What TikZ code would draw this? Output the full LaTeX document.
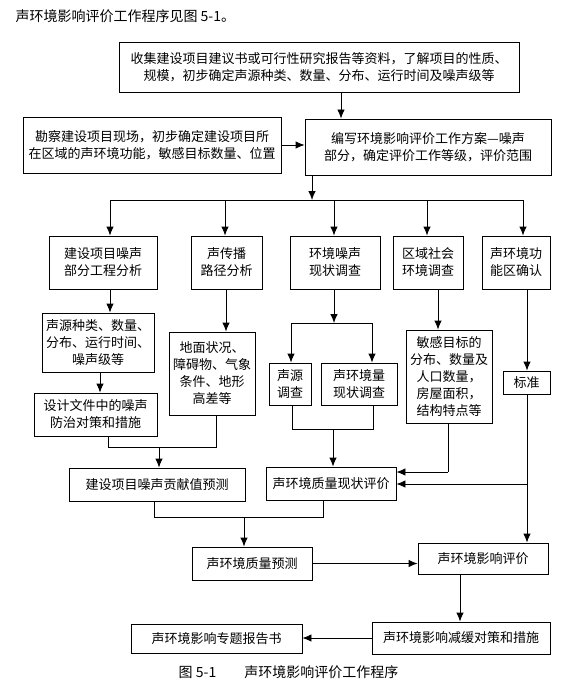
\documentclass[tikz,border=0pt]{standalone}
\usepackage{fontspec}
\newfontfamily\cjk{Noto Sans CJK SC}
\usetikzlibrary{arrows.meta}

\begin{document}
\begin{tikzpicture}[x=1pt,y=-1pt,
  every node/.style={font=\cjk\fontsize{13}{17}\selectfont},
  box/.style={draw,line width=0.9pt,align=center,inner sep=0pt},
  boxsize/.style 2 args={minimum width=#1pt,minimum height=#2pt},
  link/.style={line width=0.9pt},
  flow/.style={line width=0.9pt,-{Latex[length=9pt,width=7.5pt]}}]

\useasboundingbox (0,0) rectangle (569,687);

% heading line above the chart
\node[anchor=west,font=\cjk\fontsize{14}{16}\selectfont] (heading) at (12,16) {声环境影响评价工作程序见图 5-1。};

% first steps
\node[box,boxsize={400}{50}] (collect) at (319,67) {收集建设项目建议书或可行性研究报告等资料，了解项目的性质、\\规模，初步确定声源种类、数量、分布、运行时间及噪声级等};
\node[box,boxsize={258}{56}] (survey) at (152,145) {勘察建设项目现场，初步确定建设项目所\\在区域的声环境功能，敏感目标数量、位置};
\node[box,boxsize={246}{56}] (plan) at (428,147) {编写环境影响评价工作方案—噪声\\部分，确定评价工作等级，评价范围};

% five work items
\node[box,boxsize={108}{53}] (engin) at (103,262.5) {建设项目噪声\\部分工程分析};
\node[box,boxsize={71}{53}] (path) at (226.5,262.5) {声传播\\路径分析};
\node[box,boxsize={90}{53}] (noise) at (335,262.5) {环境噪声\\现状调查};
\node[box,boxsize={70}{53}] (social) at (428,262.5) {区域社会\\环境调查};
\node[box,boxsize={68}{53}] (zone) at (516,262.5) {声环境功\\能区确认};

% details of each item
\node[box,boxsize={112}{59}] (source) at (98,342.5) {声源种类、数量、\\分布、运行时间、\\噪声级等};
\node[box,boxsize={123}{43}] (design) at (95.5,414.5) {设计文件中的噪声\\防治对策和措施};
\node[box,boxsize={86}{83}] (ground) at (212,373.5) {地面状况、\\障碍物、气象\\条件、地形\\高差等};
\node[box,boxsize={42}{42}] (srcinv) at (290,384) {声源\\调查};
\node[box,boxsize={76}{42}] (qualinv) at (359,384) {声环境量\\现状调查};
\node[box,boxsize={86}{93}] (target) at (449,376.5) {敏感目标的\\分布、数量及\\人口数量，\\房屋面积，\\结构特点等};
\node[box,boxsize={47}{23}] (std) at (526.5,382.5) {标准};

% predictions and assessments
\node[box,boxsize={176}{33}] (contrib) at (157,484.5) {建设项目噪声贡献值预测};
\node[box,boxsize={130}{33}] (status) at (331,483.5) {声环境质量现状评价};
\node[box,boxsize={120}{33}] (predict) at (252,563.5) {声环境质量预测};
\node[box,boxsize={130}{31}] (assess) at (483,558.5) {声环境影响评价};
\node[box,boxsize={178}{32}] (mitig) at (461,638) {声环境影响减缓对策和措施};
\node[box,boxsize={171}{29}] (report) at (216.5,638.5) {声环境影响专题报告书};

\node[font=\cjk\fontsize{14}{16}\selectfont] (caption) at (288.5,672) {图 5-1\quad\quad 声环境影响评价工作程序};

% junction points
\coordinate (busL) at (110,200);
\coordinate (busR) at (523,200);
\coordinate (busin) at (312,200);
\coordinate (split) at (334,323);
\coordinate (splitL) at (291,323);
\coordinate (splitR) at (372,323);
\coordinate (joinL) at (292,429);
\coordinate (joinR) at (373,429);
\coordinate (joinM) at (333,429);
\coordinate (tgt) at (448,472);
\coordinate (stdbr) at (527,484);
\coordinate (mergeL) at (108,447);
\coordinate (mergeR) at (216,447);
\coordinate (mergeM) at (159,447);
\coordinate (predL) at (154,517);
\coordinate (predR) at (323,517);
\coordinate (predM) at (244,517);

% top part
\draw[flow] (collect.south -| 341,0) -- (plan.north -| 341,0);
\draw[flow] (survey.east) -- (survey.east -| plan.west);
\draw[flow] (plan.south -| busin) -- (busin);
\draw[link] (busL) -- (busR);
\draw[flow] (busL) -- (engin.north -| busL);
\draw[flow] (225,200) -- (path.north -| 225,0);
\draw[flow] (334,200) -- (noise.north -| 334,0);
\draw[flow] (427,200) -- (social.north -| 427,0);
\draw[flow] (busR) -- (zone.north -| busR);

% middle part
\draw[flow] (engin.south -| 110,0) -- (source.north -| 110,0);
\draw[flow] (source.south -| 100,0) -- (design.north -| 100,0);
\draw[flow] (path.south -| 226,0) -- (ground.north -| 226,0);
\draw[flow] (noise.south -| split) -- (split);
\draw[link] (splitL) -- (splitR);
\draw[flow] (splitL) -- (srcinv.north -| splitL);
\draw[flow] (splitR) -- (qualinv.north -| splitR);
\draw[flow] (social.south -| 438,0) -- (target.north -| 438,0);
\draw[flow] (zone.south -| stdbr) -- (std.north -| stdbr);

% lines into the assessments
\draw[link] (srcinv.south -| joinL) -- (joinL) -- (joinR) -- (qualinv.south -| joinR);
\draw[flow] (joinM) -- (status.north -| joinM);
\draw[link] (target.south -| tgt) -- (tgt);
\draw[flow] (tgt) -- (tgt -| status.east);
\draw[flow] (std.south -| stdbr) -- (assess.north -| stdbr);
\draw[flow] (stdbr) -- (stdbr -| status.east);
\draw[link] (design.south -| mergeL) -- (mergeL) -- (mergeR) -- (ground.south -| mergeR);
\draw[flow] (mergeM) -- (contrib.north -| mergeM);

% bottom part
\draw[link] (contrib.south -| predL) -- (predL) -- (predR) -- (status.south -| predR);
\draw[flow] (predM) -- (predict.north -| predM);
\draw[flow] (predict.east) -- (predict.east -| assess.west);
\draw[flow] (assess.south -| 460,0) -- (mitig.north -| 460,0);
\draw[flow] (mitig.west) -- (mitig.west -| report.east);

\end{tikzpicture}
\end{document}
